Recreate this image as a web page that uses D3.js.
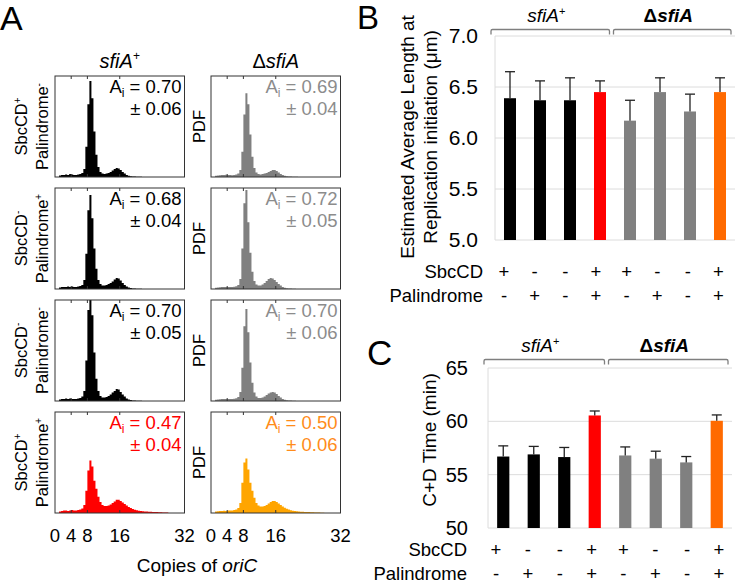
<!DOCTYPE html>
<html>
<head>
<meta charset="utf-8">
<script src="https://cdn.jsdelivr.net/npm/d3@7"></script>
<style>
  body { margin: 0; background: #fff; }
  text { font-family: "Liberation Sans", Arial, Helvetica, sans-serif; }
</style>
</head>
<body>
<svg id="fig" width="735" height="584"></svg>
<script>
// ---------------- data ----------------
// histograms of oriC copies, bins of 0.5 copies starting at 0 (relative PDF, 1 = top of box)
var binWidth = 0.5;
var copyTicks = [0, 4, 8, 16, 32];

var histSfiA = [
  [0,0,.015,.02,.02,.025,.02,.03,.025,.02,.02,.025,.03,.04,.08,.30,.72,.95,.78,.45,.22,.10,.05,.035,.03,.035,.04,.05,.065,.08,.09,.085,.07,.05,.035,.02,.012,.008,.005,.004,.003,.002,.002,.001,.001,.001,0,0],
  [0,0,.015,.02,.02,.02,.025,.02,.025,.02,.02,.025,.03,.04,.09,.35,.78,.93,.70,.40,.20,.09,.05,.035,.035,.04,.05,.06,.075,.095,.11,.105,.085,.06,.04,.025,.015,.01,.006,.004,.003,.002,.002,.001,.001,0,0,0],
  [0,0,.015,.02,.02,.025,.02,.025,.02,.02,.02,.025,.03,.045,.10,.40,.90,1.15,.85,.48,.22,.10,.05,.035,.035,.04,.05,.065,.085,.10,.12,.115,.09,.065,.045,.025,.015,.01,.006,.004,.003,.002,.002,.001,.001,0,0,0],
  [0,0,.015,.02,.025,.025,.02,.025,.03,.025,.025,.03,.035,.045,.08,.22,.42,.52,.46,.32,.24,.16,.11,.08,.07,.07,.075,.085,.10,.115,.13,.13,.12,.105,.09,.075,.06,.05,.04,.033,.027,.022,.02,.018,.016,.014,.013,.012,.011,.01,.009,.008,.007,.006,.005,.004]
];
var histDelta = [
  [0,0,.012,.015,.018,.02,.02,.022,.02,.02,.018,.02,.025,.035,.07,.25,.62,.83,.72,.42,.20,.09,.045,.03,.025,.03,.035,.04,.05,.06,.07,.07,.06,.045,.03,.02,.012,.008,.005,.004,.003,.002,.002,.001,.001,0,0,0],
  [0,0,.012,.015,.018,.02,.02,.02,.02,.02,.02,.022,.028,.04,.10,.40,.85,.98,.66,.36,.17,.08,.045,.035,.035,.045,.06,.08,.10,.11,.105,.09,.07,.05,.035,.02,.012,.008,.005,.004,.003,.002,.001,.001,0,0,0,0],
  [0,0,.012,.015,.018,.02,.02,.02,.02,.02,.02,.022,.028,.04,.09,.33,.74,.91,.68,.38,.18,.085,.045,.03,.03,.035,.045,.06,.075,.085,.09,.085,.07,.05,.035,.02,.012,.008,.005,.004,.003,.002,.001,.001,0,0,0,0],
  [0,0,.015,.018,.02,.02,.022,.02,.025,.025,.025,.03,.035,.05,.10,.30,.50,.54,.43,.30,.22,.15,.10,.075,.065,.065,.07,.08,.095,.11,.12,.12,.11,.095,.08,.065,.052,.042,.034,.028,.023,.02,.017,.015,.013,.012,.011,.01,.009,.008,.007,.006,.005,.004,.003,.002]
];
var aiSfiA = [0.70, 0.68, 0.70, 0.47];
var aiSfiAErr = [0.06, 0.04, 0.05, 0.04];
var aiDelta = [0.69, 0.72, 0.70, 0.50];
var aiDeltaErr = [0.04, 0.05, 0.06, 0.06];
var rowSbc = ["+", "-", "-", "+"];
var rowPal = ["-", "+", "-", "+"];

// bar charts B and C, 8 strains
var sbcSigns = ["+", "-", "-", "+", "+", "-", "-", "+"];
var palSigns = ["-", "+", "-", "+", "-", "+", "-", "+"];
var lengthMean = [6.39, 6.37, 6.37, 6.45, 6.17, 6.45, 6.26, 6.45];
var lengthErr  = [0.26, 0.19, 0.22, 0.11, 0.20, 0.14, 0.17, 0.14];
var lengthTicks = [5.0, 5.5, 6.0, 6.5, 7.0];
var cdMean = [56.7, 56.9, 56.65, 60.55, 56.8, 56.5, 56.15, 60.05];
var cdErr  = [1.0, 0.75, 0.9, 0.42, 0.8, 0.7, 0.55, 0.55];
var cdTicks = [50, 55, 60, 65];

var barColors = ["#000000", "#000000", "#000000", "#ff0000", "#808080", "#808080", "#808080", "#ff6a00"];

// ---------------- drawing ----------------
var svg = d3.select("#fig");

svg.append("text").attr("x", 0).attr("y", 30).attr("font-size", 34).text("A");
svg.append("text").attr("x", 357).attr("y", 29).attr("font-size", 33).text("B");
svg.append("text").attr("x", 367).attr("y", 365).attr("font-size", 35).text("C");

//---- panel A : histograms
var boxW = 129.5, boxH = 101;
var colX = [55, 211];
var rowY = [76, 188, 300, 412];
var hx = d3.scaleLinear().domain([0, 32]).range([0, boxW]);
var hy = d3.scaleLinear().domain([0, 1]).range([boxH, 0]);
var histArea = d3.area()
    .x(d => hx(d[0]))
    .y0(boxH)
    .y1(d => hy(d[1]))
    .curve(d3.curveStepAfter);

svg.append("defs").append("clipPath").attr("id", "boxclip")
    .append("rect").attr("width", boxW).attr("height", boxH);

var columns = [
  {hists: histSfiA, ai: aiSfiA, err: aiSfiAErr, fill: ["#000", "#000", "#000", "#ff0000"], txt: ["#000", "#000", "#000", "#ff0000"]},
  {hists: histDelta, ai: aiDelta, err: aiDeltaErr, fill: ["#808080", "#808080", "#808080", "#ffa500"], txt: ["#8c8c8c", "#8c8c8c", "#8c8c8c", "#ff8c1a"]}
];

columns.forEach(function(col, c) {
  col.hists.forEach(function(vals, r) {
    var g = svg.append("g").attr("transform", "translate(" + colX[c] + "," + rowY[r] + ")");
    var pts = vals.map((v, i) => [i * binWidth, v]);
    pts.push([vals.length * binWidth, 0]);
    g.append("path")
        .attr("clip-path", "url(#boxclip)")
        .attr("d", histArea(pts))
        .attr("fill", col.fill[r]);
    g.append("rect")
        .attr("width", boxW).attr("height", boxH)
        .attr("fill", "none").attr("stroke", "#333").attr("stroke-width", 1);
    g.selectAll("line.tk")
        .data(copyTicks.slice(1, -1))
        .enter().append("line")
        .attr("x1", d => hx(d)).attr("x2", d => hx(d))
        .attr("y1", 0).attr("y2", 3)
        .attr("stroke", "#333");
    g.selectAll("line.bt")
        .data(copyTicks.slice(1, -1))
        .enter().append("line")
        .attr("x1", d => hx(d)).attr("x2", d => hx(d))
        .attr("y1", boxH).attr("y2", boxH - 3)
        .attr("stroke", "#333");

    var t = g.append("text").attr("x", boxW - 3).attr("y", 17)
        .attr("text-anchor", "end").attr("font-size", 18.5).attr("fill", col.txt[r]);
    t.append("tspan").text("A");
    t.append("tspan").attr("font-size", 12).attr("dy", 4).text("i");
    t.append("tspan").attr("dy", -4).text(" = " + d3.format(".2f")(col.ai[r]));
    g.append("text").attr("x", boxW - 3).attr("y", 39)
        .attr("text-anchor", "end").attr("font-size", 18.5).attr("fill", col.txt[r])
        .text("\u00b1 " + d3.format(".2f")(col.err[r]));

    if (c == 1) {
      svg.append("text")
          .attr("transform", "translate(205," + (rowY[r] + boxH / 2) + ") rotate(-90)")
          .attr("text-anchor", "middle").attr("font-size", 16.5).text("PDF");
    }
  });

  // copies axis labels
  svg.selectAll(null)
      .data(copyTicks)
      .enter().append("text")
      .attr("x", d => colX[c] + hx(d))
      .attr("y", 542)
      .attr("text-anchor", "middle")
      .attr("font-size", 18.5)
      .text(d => d);
});

// row labels
rowY.forEach(function(y0, r) {
  var l1 = svg.append("text")
      .attr("transform", "translate(27," + (y0 + boxH / 2) + ") rotate(-90)")
      .attr("text-anchor", "middle").attr("font-size", 16.5);
  l1.append("tspan").text("SbcCD");
  l1.append("tspan").attr("font-size", 10).attr("dy", -6).text(rowSbc[r]);
  var l2 = svg.append("text")
      .attr("transform", "translate(48," + (y0 + boxH / 2) + ") rotate(-90)")
      .attr("text-anchor", "middle").attr("font-size", 16.5);
  l2.append("tspan").text("Palindrome");
  l2.append("tspan").attr("font-size", 10).attr("dy", -6).text(rowPal[r]);
});

// column titles
var ct1 = svg.append("text").attr("x", colX[0] + boxW / 2).attr("y", 68)
    .attr("text-anchor", "middle").attr("font-size", 20);
ct1.append("tspan").attr("font-style", "italic").text("sfiA");
ct1.append("tspan").attr("font-size", 12).attr("dy", -8).text("+");
var ct2 = svg.append("text").attr("x", colX[1] + boxW / 2).attr("y", 68)
    .attr("text-anchor", "middle").attr("font-size", 20);
ct2.append("tspan").text("\u0394");
ct2.append("tspan").attr("font-style", "italic").text("sfiA");

var xl = svg.append("text").attr("x", 197).attr("y", 572)
    .attr("text-anchor", "middle").attr("font-size", 19);
xl.append("tspan").text("Copies of ");
xl.append("tspan").attr("font-style", "italic").text("oriC");

//---- bar panels B and C
function barPanel(opt) {
  var x = d3.scaleBand().domain(d3.range(opt.mean.length))
      .range(opt.xr).paddingInner(0.6).paddingOuter(0.3);
  var y = d3.scaleLinear().domain(opt.dom).range(opt.yr);
  var step = x.step();
  var cx = i => x(i) + x.bandwidth() / 2;

  svg.append("g").selectAll("line")
      .data(opt.ticks)
      .enter().append("line")
      .attr("x1", opt.xr[0]).attr("x2", opt.xr[1])
      .attr("y1", d => y(d)).attr("y2", d => y(d))
      .attr("stroke", "#dcdcdc").attr("stroke-width", 1);
  svg.append("line")
      .attr("x1", opt.xr[0]).attr("x2", opt.xr[0])
      .attr("y1", y(opt.dom[0])).attr("y2", y(opt.dom[1]))
      .attr("stroke", "#dcdcdc");

  var ax = svg.append("g").attr("transform", "translate(" + opt.xr[0] + ",0)")
      .call(d3.axisLeft(y).tickValues(opt.ticks).tickSize(0).tickPadding(opt.pad).tickFormat(opt.fmt));
  ax.select(".domain").remove();
  ax.selectAll("text").attr("font-size", opt.fs).attr("font-family", null).attr("fill", "#000");

  svg.append("g").selectAll("rect")
      .data(opt.mean)
      .enter().append("rect")
      .attr("x", (d, i) => x(i))
      .attr("width", x.bandwidth())
      .attr("y", d => y(d))
      .attr("height", d => y(opt.dom[0]) - y(d))
      .attr("fill", (d, i) => barColors[i]);

  var eb = svg.append("g").attr("stroke", "#222").attr("stroke-width", 1.3);
  opt.mean.forEach(function(m, i) {
    eb.append("line").attr("x1", cx(i)).attr("x2", cx(i))
        .attr("y1", y(m)).attr("y2", y(m + opt.err[i]));
    eb.append("line").attr("x1", cx(i) - 5).attr("x2", cx(i) + 5)
        .attr("y1", y(m + opt.err[i])).attr("y2", y(m + opt.err[i]));
  });

  // group brackets
  [[0, 3], [4, 7]].forEach(function(gr, gi) {
    var x0 = cx(gr[0]) - step / 2 - 4 + gi * 2.5;
    var x1 = cx(gr[1]) + step / 2 - 4 - (gi ? 0 : 1.5);
    var yb = opt.brY;
    svg.append("path")
        .attr("d", "M" + x0 + "," + (yb + 5) + "L" + x0 + "," + (yb + 1.5) + "Q" + x0 + "," + yb + " " + (x0 + 1.5) + "," + yb +
                   "L" + (x1 - 1.5) + "," + yb + "Q" + x1 + "," + yb + " " + x1 + "," + (yb + 1.5) + "L" + x1 + "," + (yb + 5))
        .attr("fill", "none").attr("stroke", "#7f7f7f").attr("stroke-width", 1.3);
    var t = svg.append("text").attr("x", (x0 + x1) / 2 - 4).attr("y", opt.brY - 8)
        .attr("text-anchor", "middle").attr("font-size", 19);
    if (gi == 0) {
      t.append("tspan").attr("font-style", "italic").text("sfiA");
      t.append("tspan").attr("font-size", 11).attr("dy", -7).text("+");
    } else {
      t.attr("font-weight", "bold");
      t.append("tspan").text("\u0394");
      t.append("tspan").attr("font-style", "italic").text("sfiA");
    }
  });

  // SbcCD / Palindrome table
  var sx = d3.scalePoint().domain(d3.range(opt.mean.length)).range(opt.signX);
  [["SbcCD", sbcSigns], ["Palindrome", palSigns]].forEach(function(row, k) {
    var yy = opt.rowY[k];
    svg.append("text").attr("x", opt.rowLabelX).attr("y", yy)
        .attr("text-anchor", "end").attr("font-size", 18.5).text(row[0]);
    svg.append("g").selectAll("text")
        .data(row[1])
        .enter().append("text")
        .attr("x", (d, i) => sx(i))
        .attr("y", yy)
        .attr("text-anchor", "middle")
        .attr("font-size", 18.5)
        .text(d => d);
  });

  // y title
  opt.title.forEach(function(line, k) {
    svg.append("text")
        .attr("transform", "translate(" + opt.titleX[k] + "," + opt.titleY + ") rotate(-90)")
        .attr("text-anchor", "middle").attr("font-size", 19).text(line);
  });
}

barPanel({
  mean: lengthMean, err: lengthErr, dom: [5, 7], ticks: lengthTicks,
  xr: [495, 735], yr: [240, 36], pad: 17, fs: 21, fmt: d3.format(".1f"),
  brY: 29.5, signX: [504, 718.5], rowY: [277.5, 301.5], rowLabelX: 483,
  title: ["Estimated Average Length at", "Replication initiation (\u03bcm)"],
  titleX: [413.5, 436.5], titleY: 137
});

barPanel({
  mean: cdMean, err: cdErr, dom: [50, 65], ticks: cdTicks,
  xr: [488, 732], yr: [528, 368], pad: 20, fs: 20, fmt: d3.format("d"),
  brY: 359.5, signX: [496, 719], rowY: [556, 579.5], rowLabelX: 467,
  title: ["C+D Time (min)"],
  titleX: [435.5], titleY: 440
});
</script>
</body>
</html>
